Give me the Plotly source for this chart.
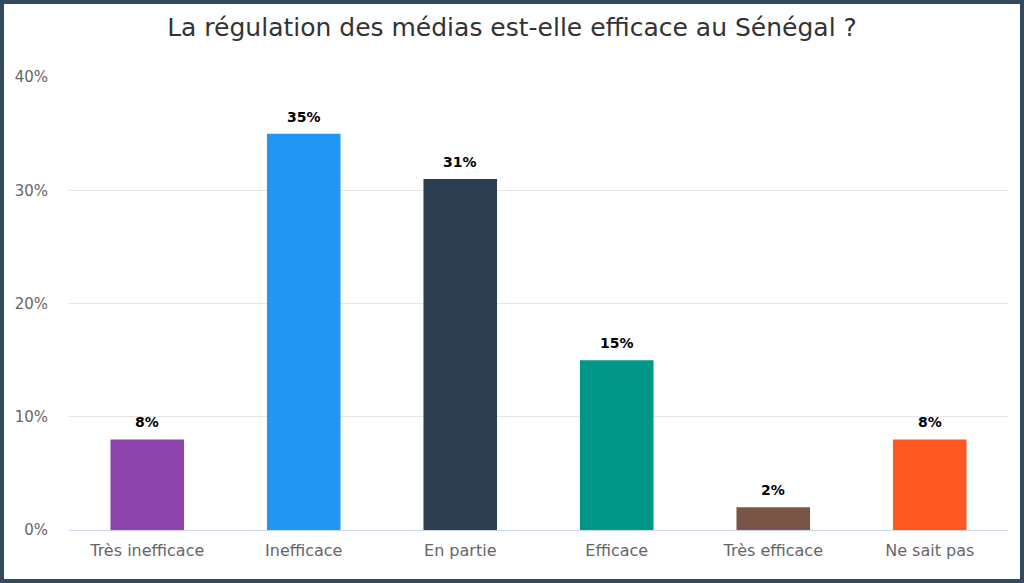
import plotly.graph_objects as go

categories = ["Très inefficace", "Inefficace", "En partie", "Efficace", "Très efficace", "Ne sait pas"]
values = [8, 35, 31, 15, 2, 8]
colors = ["#8e44ad", "#2196f3", "#2c3e50", "#009688", "#795548", "#ff5722"]
title = "La régulation des médias est-elle efficace au Sénégal ?"
ytickvals = [0, 10, 20, 30, 40]
yticktext = [f"{v}%" for v in ytickvals]

W, H = 1024, 583
ml, mr, mt, mb = 69, 16, 77, 53
pw = W - ml - mr
ph = H - mt - mb

fig = go.Figure(go.Bar(
    x=categories, y=values,
    marker=dict(color=colors, line=dict(width=0)),
    width=0.47,
    hoverinfo="x+y",
))

for c, v in zip(categories, values):
    fig.add_annotation(x=c, y=v, xref="x", yref="y", text=f"<b>{v}%</b>",
                       showarrow=False, yanchor="bottom", yshift=7,
                       font=dict(family="DejaVu Sans", size=14, color="#000000"))

fig.update_layout(
    width=W, height=H,
    margin=dict(l=ml, r=mr, t=mt, b=mb),
    paper_bgcolor="white", plot_bgcolor="white",
    font=dict(family="DejaVu Sans", color="#666666"),
    title=dict(text=title, x=0.5, xanchor="center", y=1 - 27 / H, yanchor="middle",
               font=dict(family="DejaVu Sans", size=25, color="#333333")),
    showlegend=False,
    xaxis=dict(showgrid=False, showline=False, ticks="", tickfont=dict(size=16, color="#666666"),
               ticklabelstandoff=9),
    yaxis=dict(range=[0, 40], tickmode="array", tickvals=ytickvals, ticktext=yticktext,
               showgrid=True, gridcolor="#e6e6e6", gridwidth=1,
               zeroline=True, zerolinecolor="#ccd6eb", zerolinewidth=1,
               tickfont=dict(size=15, color="#666666"), ticklabelstandoff=20),
    shapes=[dict(type="rect", xref="paper", yref="paper",
                 x0=(-ml + 2) / pw, x1=1 + (mr - 2) / pw,
                 y0=(-mb + 2) / ph, y1=1 + (mt - 2) / ph,
                 line=dict(color="#34495e", width=4), fillcolor="rgba(0,0,0,0)", layer="above")],
)

fig.write_html("out.html", config={"displayModeBar": False},
               post_script="document.body.style.margin='0';document.body.style.overflow='hidden';")
